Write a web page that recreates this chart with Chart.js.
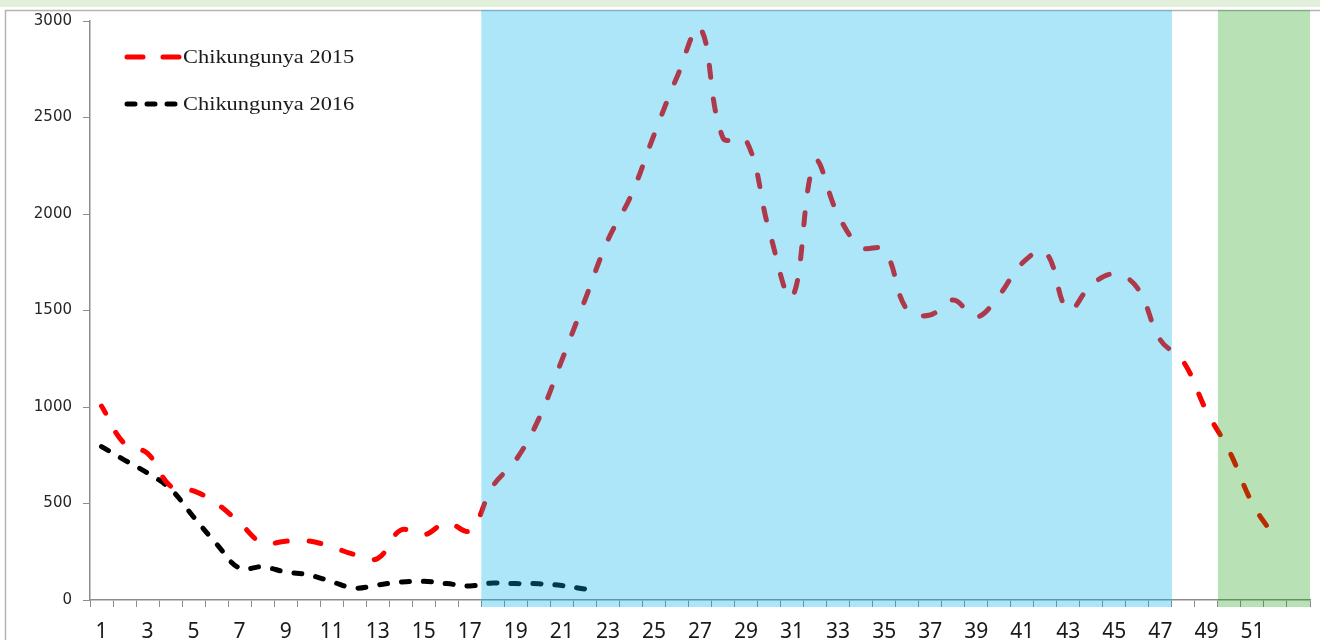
<!DOCTYPE html>
<html>
<head>
<meta charset="utf-8">
<script src="https://cdn.jsdelivr.net/npm/chart.js@4.4.1/dist/chart.umd.min.js"></script>
<style>
  html, body { margin: 0; padding: 0; background: #fff; }
  #grafico { display: block; }
</style>
</head>
<body>
<canvas id="grafico" width="1320" height="640"></canvas>
<script>
// semanas epidemiologicas
var semanas = ['1','2','3','4','5','6','7','8','9','10','11','12','13','14','15','16','17','18','19','20',
  '21','22','23','24','25','26','27','28','29','30','31','32','33','34','35','36','37','38','39','40',
  '41','42','43','44','45','46','47','48','49','50','51','52','53'];
var etiquetasX = ['1','3','5','7','9','11','13','15','17','19','21','23','25','27','29','31','33','35',
  '37','39','41','43','45','47','49','51'];
var etiquetasY = [0, 500, 1000, 1500, 2000, 2500, 3000];

var casos2015 = [1005, 810, 760, 590, 565, 500, 400, 295, 305, 306, 275, 235, 215, 362, 337, 400, 360,
  590, 725, 940, 1243, 1554, 1865, 2095, 2409, 2710, 2964, 2394, 2383, 1917, 1570, 2270, 1995, 1829,
  1813, 1503, 1477, 1554, 1466, 1580, 1746, 1803, 1503, 1632, 1689, 1617, 1347, 1235, 980, 770, 500, 320];
var casos2016 = [795, 725, 658, 575, 430, 290, 165, 172, 145, 130, 95, 62, 78, 93, 97, 85, 73, 88, 85,
  84, 75, 57];

var nombres = ['Chikungunya 2015', 'Chikungunya 2016'];

// periodos sombreados (semana inicial, semana final)
var periodoAzul = ['18', '47'];
var periodoVerde = ['50', '53'];

var fondoPagina = {
  id: 'fondoPagina',
  beforeDraw: function (chart) {
    var ctx = chart.ctx;
    ctx.save();
    ctx.fillStyle = '#ffffff';
    ctx.fillRect(0, 0, chart.width, chart.height);
    ctx.fillStyle = '#e2efda';
    ctx.fillRect(0, 0, chart.width, 7);
    ctx.strokeStyle = '#b4b4b4';
    ctx.lineWidth = 1.5;
    ctx.strokeRect(5.5, 10.5, chart.width + 20, chart.height + 20);
    ctx.restore();
  }
};

function pintarPeriodo(chart, periodo, color) {
  var x = chart.scales.x, area = chart.chartArea;
  var mitad = (x.getPixelForValue(1) - x.getPixelForValue(0)) / 2;
  var x0 = x.getPixelForValue(semanas.indexOf(periodo[0])) - mitad;
  var x1 = x.getPixelForValue(semanas.indexOf(periodo[1])) + mitad;
  var ctx = chart.ctx;
  ctx.fillStyle = color;
  ctx.fillRect(x0, area.top - 11, x1 - x0, area.bottom - area.top + 18);
}

var leyenda = {
  id: 'leyenda',
  afterDraw: function (chart) {
    var ctx = chart.ctx, area = chart.chartArea;
    var estilos = [
      { color: '#ff0000', dash: [16, 20] },
      { color: '#000000', dash: [8, 12] }
    ];
    ctx.save();
    for (var i = 0; i < nombres.length; i++) {
      var y = area.top + 36 + i * 47;
      var x = area.left + 37;
      ctx.beginPath();
      ctx.setLineDash(estilos[i].dash);
      ctx.lineCap = 'round';
      ctx.lineWidth = 5;
      ctx.strokeStyle = estilos[i].color;
      ctx.moveTo(x, y);
      ctx.lineTo(x + 53, y);
      ctx.stroke();
      ctx.setLineDash([]);
      ctx.save();
      ctx.translate(x + 56, y);
      ctx.scale(1.18, 1);
      ctx.font = '19px "Liberation Serif", serif';
      ctx.fillStyle = '#1a1a1a';
      ctx.textBaseline = 'middle';
      ctx.fillText(nombres[i], 0, 1);
      ctx.restore();
    }
    pintarPeriodo(chart, periodoAzul, 'rgba(0, 178, 234, 0.32)');
    pintarPeriodo(chart, periodoVerde, 'rgba(10, 153, 0, 0.29)');
    ctx.restore();
  }
};

var grafico = new Chart(document.getElementById('grafico'), {
  type: 'line',
  data: {
    labels: semanas,
    datasets: [{
      label: nombres[0],
      data: casos2015,
      borderColor: '#ff0000',
      borderWidth: 5,
      borderDash: [12, 22],
      borderDashOffset: 4,
      borderCapStyle: 'round',
      pointRadius: 0,
      tension: 0.4,
      fill: false
    }, {
      label: nombres[1],
      data: casos2016,
      borderColor: '#000000',
      borderWidth: 5,
      borderDash: [8, 14],
      borderCapStyle: 'round',
      pointRadius: 0,
      tension: 0.4,
      fill: false
    }]
  },
  options: {
    responsive: false,
    animation: false,
    devicePixelRatio: 1,
    layout: { padding: { top: 21, right: 10, left: 0, bottom: 0 } },
    plugins: {
      legend: { display: false },
      tooltip: { enabled: false }
    },
    scales: {
      x: {
        offset: true,
        afterFit: function (scale) { scale.height = 40; },
        grid: { offset: true, drawOnChartArea: false, drawTicks: true, tickLength: 7, color: '#8c8c8c' },
        border: { color: '#8c8c8c', width: 1.5 },
        ticks: {
          autoSkip: false,
          maxRotation: 0,
          padding: 12,
          color: '#1a1a1a',
          font: { family: '"Noto Sans", sans-serif', size: 21 },
          callback: function (v) {
            var l = semanas[v];
            return etiquetasX.indexOf(l) >= 0 ? l : '';
          }
        }
      },
      y: {
        min: etiquetasY[0],
        max: etiquetasY[etiquetasY.length - 1],
        afterFit: function (scale) { scale.width = 90; },
        afterBuildTicks: function (scale) {
          scale.ticks = etiquetasY.map(function (v) { return { value: v }; });
        },
        grid: { drawOnChartArea: false, drawTicks: true, tickLength: 7, color: '#8c8c8c' },
        border: { color: '#8c8c8c', width: 1.5 },
        ticks: {
          padding: 11,
          color: '#262626',
          font: { family: '"DejaVu Sans", sans-serif', size: 15 },
          callback: function (v) { return String(v); }
        }
      }
    }
  },
  plugins: [fondoPagina, leyenda]
});
</script>
</body>
</html>
